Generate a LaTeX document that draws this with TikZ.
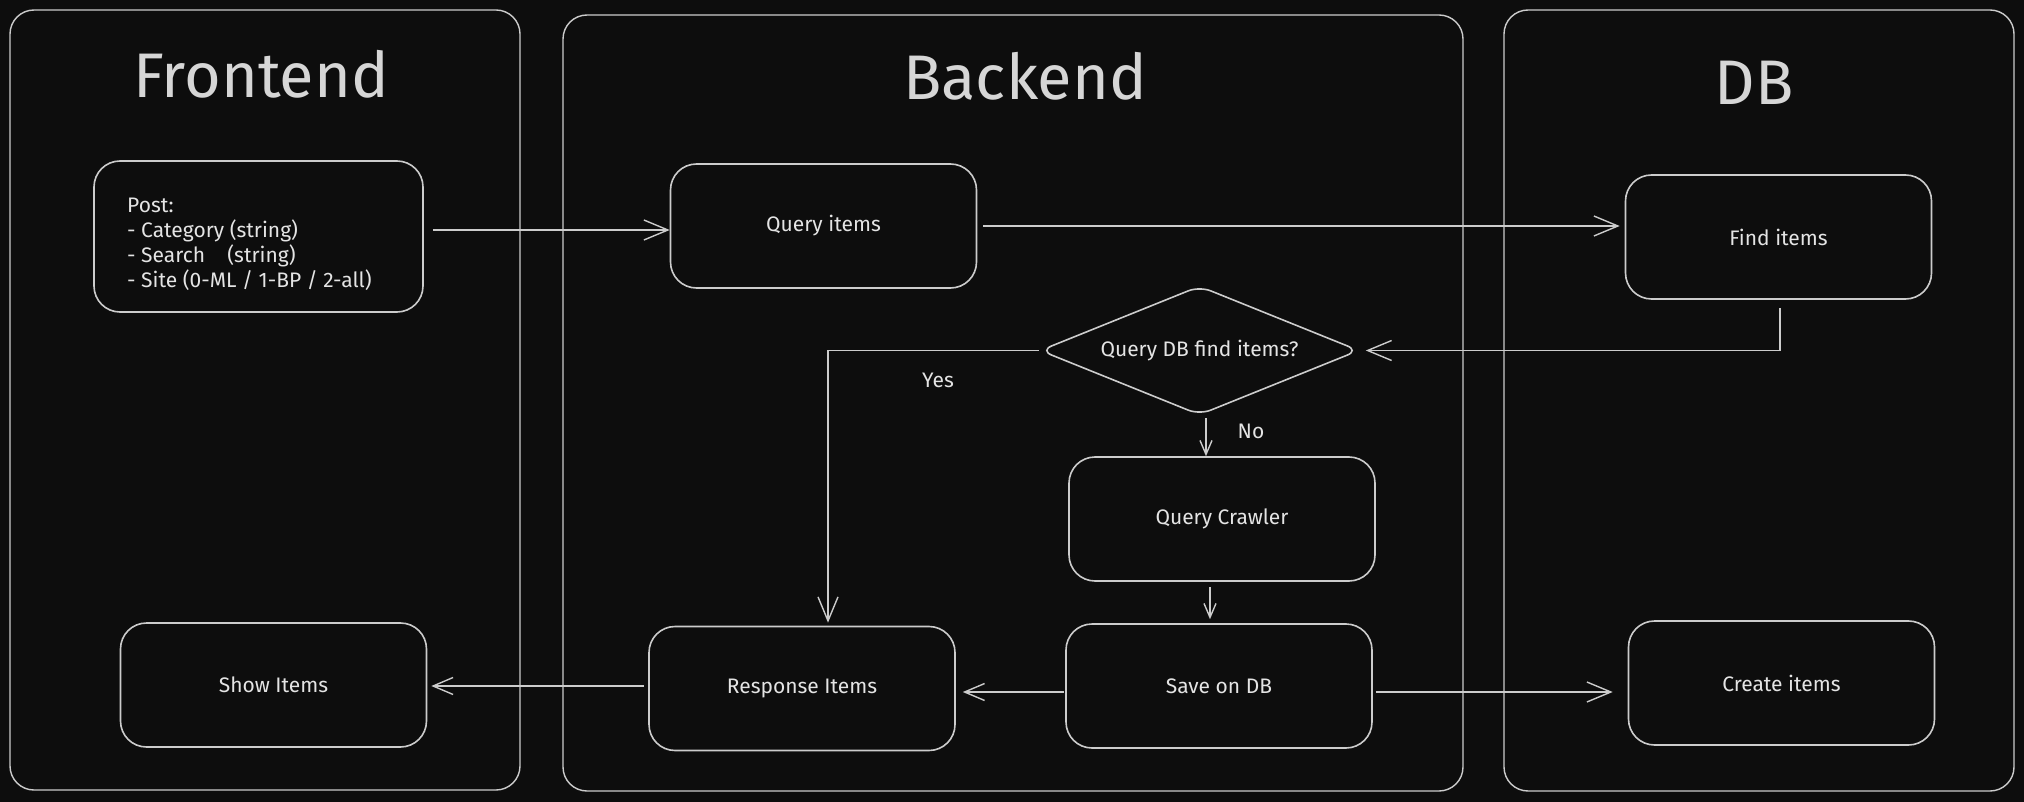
\documentclass[tikz,border=0pt]{standalone}
\usepackage{fontspec}
\setmainfont{Fira Sans}
\usetikzlibrary{arrows.meta,shapes.geometric}
\definecolor{bg}{HTML}{0D0D0D}
\definecolor{ln}{HTML}{CCCCCC}
\definecolor{tx}{HTML}{E4E4E4}
\definecolor{ttl}{HTML}{D6D6D6}
\begin{document}
\begin{tikzpicture}[x=1pt,y=-1pt,
  container/.style={draw=ln, line width=1.4pt, rounded corners=24pt},
  box/.style={draw=ln, line width=1.6pt, rounded corners=26pt, text=tx,
    font=\fontsize{21}{25}\selectfont, minimum width=306pt, minimum height=124pt, inner sep=0pt},
  decision/.style={diamond, draw=ln, line width=1.6pt, rounded corners=12pt, text=tx,
    font=\fontsize{21}{25}\selectfont, minimum width=319pt, minimum height=129pt, inner sep=0pt, aspect=2.47},
  ttlnode/.style={text=ttl, font=\fontsize{63}{70}\selectfont, anchor=base, inner sep=0pt},
  lbl/.style={text=tx, font=\fontsize{21}{25}\selectfont, inner sep=0pt},
  conn/.style={draw=ln, line width=1.4pt, -{Straight Barb[length=24pt,width=20pt,line width=1.4pt]}},
  mconn/.style={draw=ln, line width=1.4pt, -{Straight Barb[length=20pt,width=17pt,line width=1.4pt]}},
  sconn/.style={draw=ln, line width=1.4pt, -{Straight Barb[length=14pt,width=12pt,line width=1.4pt]}}]
\fill[bg] (0,0) rectangle (2024,802);
\useasboundingbox (0,0) rectangle (2024,802);

% containers
\draw[container] (10,10) rectangle (520,790);
\draw[container] (563,15) rectangle (1463,791);
\draw[container] (1504,10) rectangle (2014,791);

\node[ttlnode] (tfront) at (261,98) {Frontend};
\node[ttlnode] (tback) at (1025,100) {Backend};
\node[ttlnode] (tdb) at (1754,105) {DB};

% nodes
\node[box, minimum width=329pt, minimum height=151pt] (post) at (258.5,236.5) {};
\node[lbl, anchor=west, align=left] (posttext) at (127,244)
  {Post:\\- Category (string)\\- Search\ \ \ \ (string)\\- Site (0-ML / 1-BP / 2-all)};
\node[box] (qi) at (823.5,226) {Query items};
\node[box] (find) at (1778.5,237) {Find items};
\node[decision] (dia) at (1199.5,350.5) {Query DB find items?};
\node[box] (crawl) at (1222,519) {Query Crawler};
\node[box] (save) at (1219,686) {Save on DB};
\node[box] (resp) at (802,688.5) {Response Items};
\node[box] (show) at (273.5,685) {Show Items};
\node[box] (create) at (1781.5,683) {Create items};

% labels
\node[lbl] (yes) at (938,380) {Yes};
\node[lbl] (no) at (1251,431) {No};

% connectors
\draw[conn, shorten <=9pt] (post.east |- 0,230) -- (qi.west |- 0,230);
\draw[conn, shorten <=6pt, shorten >=5pt] (qi.east |- 0,226) -- (find.west |- 0,226);
\draw[conn, shorten <=8pt, shorten >=6pt] ([xshift=1.5pt]find.south) |- (dia.east);
\draw[conn] (dia.west) -| ([xshift=26pt,yshift=3pt]resp.north);
\draw[sconn, shorten <=2pt] ([xshift=6.5pt]dia.south) -- ([xshift=6.5pt]dia.south |- crawl.north);
\draw[sconn, shorten <=5pt, shorten >=4pt] (crawl.south -| 1210,0) -- (save.north -| 1210,0);
\draw[mconn, shorten <=1pt, shorten >=7pt] (save.west |- 0,692) -- (resp.east |- 0,692);
\draw[conn, shorten <=3pt, shorten >=15pt] (save.east |- 0,692) -- (create.west |- 0,692);
\draw[mconn, shorten <=4pt, shorten >=4pt] (resp.west |- 0,686) -- (show.east |- 0,686);
\end{tikzpicture}
\end{document}
